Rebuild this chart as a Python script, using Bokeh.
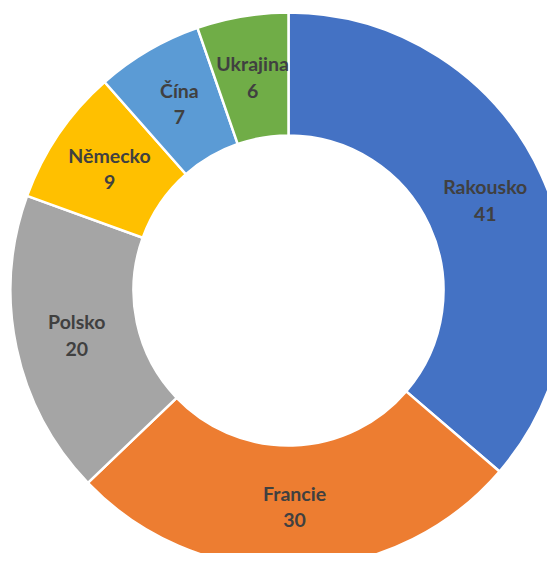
import math
from bokeh.plotting import figure
from bokeh.models import ColumnDataSource, Range1d
from bokeh.core.properties import value
from bokeh.embed import file_html
from bokeh.resources import INLINE

categories = ["Rakousko", "Francie", "Polsko", "Německo", "Čína", "Ukrajina"]
values = [41, 30, 20, 9, 7, 6]
colors = ["#4472C4", "#ED7D31", "#A5A5A5", "#FFC000", "#5B9BD5", "#70AD47"]

W, H = 547, 553
cx, cy = 288, H - 290
r_out, r_in = 278, 155

total = sum(values)
starts, ends, lx, ly = [], [], [], []
acc = 0
for v in values:
    a0 = math.pi / 2 - 2 * math.pi * acc / total
    a1 = math.pi / 2 - 2 * math.pi * (acc + v) / total
    starts.append(a0)
    ends.append(a1)
    mid = (a0 + a1) / 2
    rm = (r_out + r_in) / 2
    lx.append(cx + rm * math.cos(mid))
    ly.append(cy + rm * math.sin(mid))
    acc += v

src = ColumnDataSource(dict(start=starts, end=ends, color=colors,
                            lx=lx, ly=ly, name=categories,
                            val=[str(v) for v in values]))

p = figure(width=W, height=H, output_backend="svg", toolbar_location=None,
           x_range=Range1d(0, W), y_range=Range1d(0, H), min_border=0)
p.axis.visible = False
p.grid.visible = False
p.outline_line_color = None
p.background_fill_color = "white"
p.border_fill_color = "white"

p.annular_wedge(x=cx, y=cy, inner_radius=r_in, outer_radius=r_out,
                start_angle="start", end_angle="end", direction="clock",
                fill_color="color", line_color="white", line_width=2.5,
                source=src)

p.text(x="lx", y="ly", text="name", source=src, y_offset=-13.5,
       text_align="center", text_baseline="middle",
       text_font=value("Lato"), text_font_style="bold",
       text_font_size="19.5px", text_color="#404040")
p.text(x="lx", y="ly", text="val", source=src, y_offset=13.5,
       text_align="center", text_baseline="middle",
       text_font=value("Lato"), text_font_style="bold",
       text_font_size="19.5px", text_color="#404040")

open("out.html", "w").write(file_html(p, INLINE))
